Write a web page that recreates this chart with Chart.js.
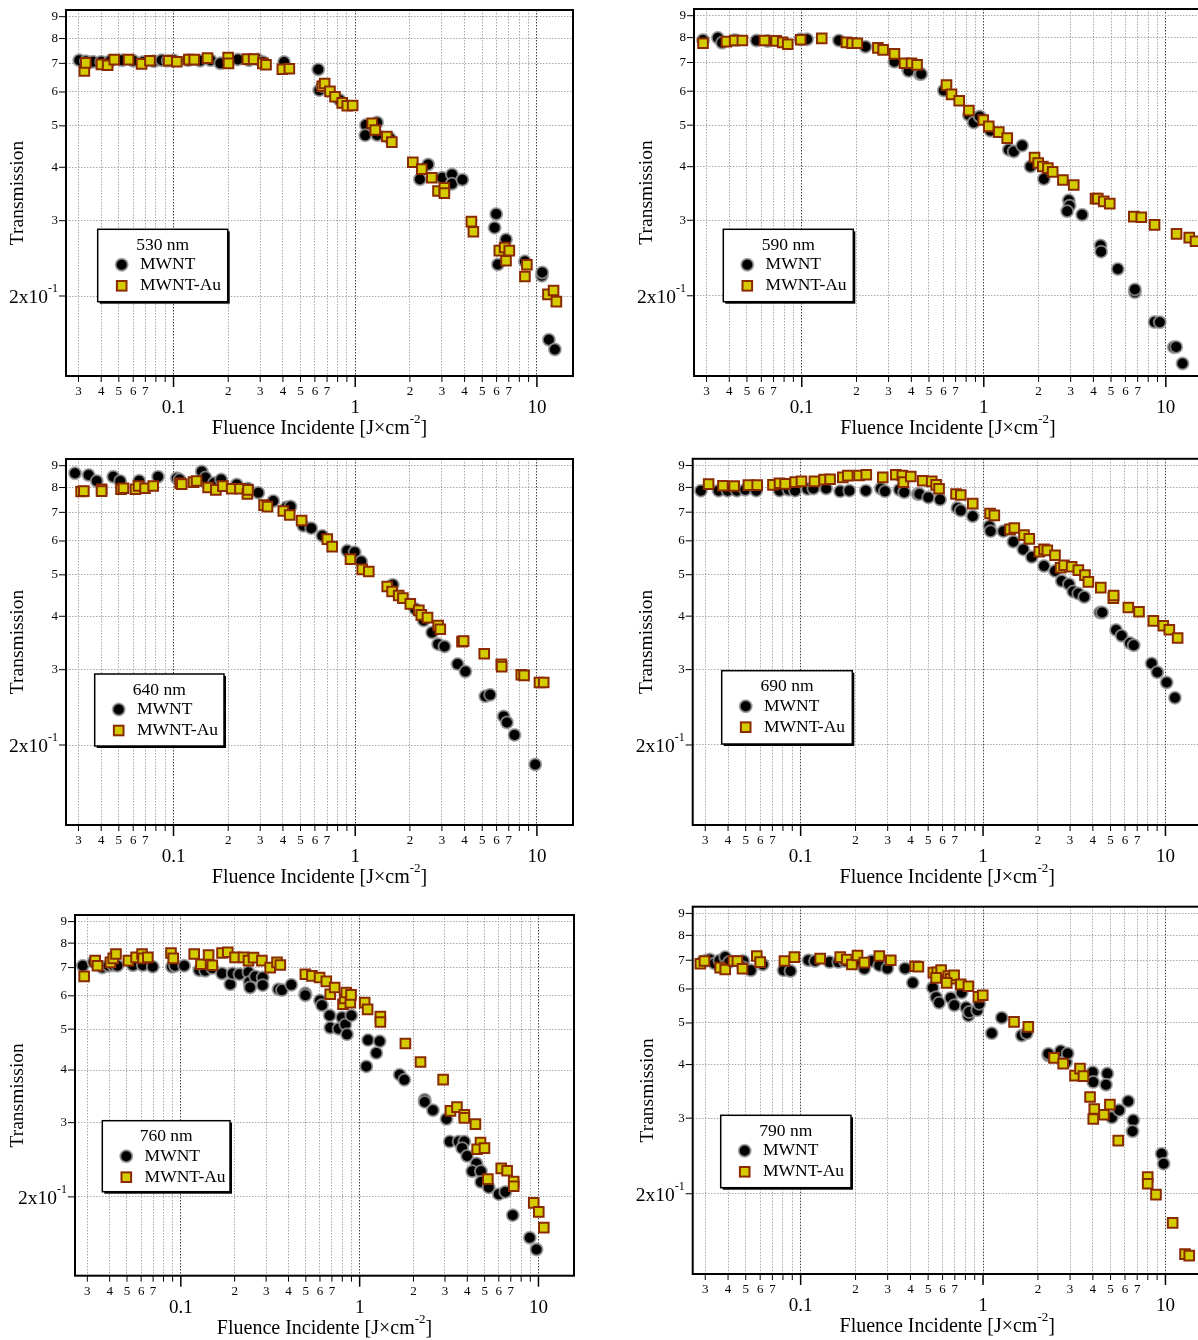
<!DOCTYPE html>
<html>
<head>
<meta charset="utf-8">
<script src="https://cdn.jsdelivr.net/npm/chart.js@4.4.0/dist/chart.umd.min.js"></script>
<style>
  html, body { margin: 0; padding: 0; background: #fff; overflow: hidden; }
  body { position: relative; width: 1198px; height: 1340px; }
  canvas { position: absolute; }
</style>
</head>
<body>
<canvas id="c530"></canvas>
<canvas id="c590"></canvas>
<canvas id="c640"></canvas>
<canvas id="c690"></canvas>
<canvas id="c760"></canvas>
<canvas id="c790"></canvas>
<script>
// ---------- axes ----------
const xMin = 0.0256, xMax = 15.8;
const yMin = 0.13, yMax = 0.933;
const xTicks = [0.03, 0.04, 0.05, 0.06, 0.07, 0.08, 0.09, 0.1, 0.2, 0.3, 0.4, 0.5, 0.6, 0.7, 0.8, 0.9, 1, 2, 3, 4, 5, 6, 7, 8, 9, 10];
const xTickLabels = ['3', '4', '5', '6', '7', '', '', '0.1', '2', '3', '4', '5', '6', '7', '', '', '1', '2', '3', '4', '5', '6', '7', '', '', '10'];
const xMajor = [0.1, 1, 10];
const yTicks = [0.2, 0.3, 0.4, 0.5, 0.6, 0.7, 0.8, 0.9];
const yTickLabels = ['2x10', '3', '4', '5', '6', '7', '8', '9'];
const yMajorSup = '-1';
const xTitle = 'Fluence Incidente [J×cm';
const xTitleSup = '-2';
const yTitle = 'Transmission';
const seriesNames = ['MWNT', 'MWNT-Au'];

// ---------- data: [fluence J/cm2, transmission] ----------
const mwnt530 = [[0.0303,0.712],[0.033,0.708],[0.036,0.706],[0.040,0.706],[0.045,0.71],[0.052,0.712],[0.06,0.71],[0.068,0.705],[0.078,0.708],[0.086,0.712],[0.093,0.71],[0.10,0.712],[0.12,0.712],[0.14,0.71],[0.16,0.712],[0.181,0.70],[0.226,0.715],[0.26,0.712],[0.29,0.715],[0.31,0.705],[0.406,0.705],
  [0.626,0.677],[0.634,0.606],[0.66,0.62],[0.82,0.575],[1.145,0.502],[1.135,0.475],[1.32,0.509],[1.32,0.476],[1.55,0.468],[2.27,0.375],[2.52,0.406],[3.01,0.378],[3.41,0.385],[3.41,0.366],[3.89,0.374],[5.97,0.311],[5.85,0.289],[6.76,0.271],[6.1,0.237],[8.59,0.241],[10.65,0.223],[10.7,0.227],[11.64,0.158],[12.56,0.150]];
const au530 = [[0.0323,0.672],[0.0329,0.702],[0.0401,0.696],[0.0434,0.693],[0.0472,0.714],[0.0566,0.714],[0.0667,0.698],[0.0742,0.71],[0.094,0.71],[0.1043,0.706],[0.1215,0.714],[0.130,0.714],[0.1538,0.72],[0.1998,0.722],[0.2007,0.70],[0.255,0.716],[0.276,0.716],[0.31,0.70],[0.323,0.695],[0.397,0.678],[0.434,0.68],
  [0.659,0.619],[0.679,0.628],[0.726,0.602],[0.774,0.585],[0.848,0.566],[0.904,0.557],[0.968,0.558],[1.24,0.507],[1.288,0.489],[1.493,0.472],[1.591,0.458],[2.075,0.411],[2.326,0.396],[2.64,0.378],[2.855,0.352],[3.095,0.358],[3.095,0.348],[4.36,0.2985],[4.47,0.2826],[6.21,0.2554],[6.64,0.2596],[7.05,0.2554],[6.76,0.2418],[8.81,0.2367],[8.59,0.2222],[11.5,0.2017],[12.35,0.206],[12.8,0.194]];

const mwnt590 = [[0.0287,0.790],[0.0346,0.799],[0.0365,0.778],[0.043,0.79],[0.0564,0.788],[0.065,0.786],[0.0987,0.793],[0.107,0.793],[0.16,0.788],[0.224,0.762],[0.323,0.703],[0.382,0.679],[0.387,0.669],[0.445,0.658],[0.453,0.658],
  [0.603,0.602],[0.828,0.528],[0.881,0.507],[0.95,0.524],[1.088,0.485],[1.371,0.438],[1.461,0.434],[1.625,0.448],[1.806,0.4005],[2.138,0.3743],[2.93,0.3339],[2.96,0.3245],[2.87,0.3148],[3.47,0.309],[4.38,0.2619],[4.41,0.2535],[5.45,0.231],[6.76,0.2039],[6.76,0.207],[8.67,0.1737],[9.27,0.1735],[11.06,0.1518],[11.4,0.152],[12.35,0.139]];
const au590 = [[0.0287,0.776],[0.0386,0.783],[0.0428,0.788],[0.0472,0.788],[0.0624,0.788],[0.0723,0.786],[0.0786,0.780],[0.0838,0.772],[0.0987,0.791],[0.1288,0.797],[0.176,0.780],[0.189,0.777],[0.202,0.776],[0.262,0.757],[0.28,0.749],[0.323,0.733],[0.367,0.697],[0.401,0.697],[0.43,0.691],
  [0.624,0.620],[0.665,0.59],[0.733,0.570],[0.828,0.541],[0.993,0.514],[1.065,0.4966],[1.209,0.4817],[1.345,0.4665],[1.9,0.4204],[1.99,0.408],[2.11,0.4005],[2.25,0.397],[2.39,0.389],[2.72,0.3725],[3.12,0.3626],[4.11,0.3369],[4.23,0.337],[4.56,0.332],[4.92,0.328],[6.67,0.306],[7.33,0.305],[8.67,0.2926],[11.45,0.2788],[13.45,0.2734],[14.56,0.268]];

const mwnt640 = [[0.0287,0.864],[0.0341,0.856],[0.0378,0.829],[0.0466,0.848],[0.0509,0.829],[0.0647,0.83],[0.0822,0.848],[0.1043,0.841],[0.108,0.835],[0.143,0.872],[0.150,0.844],[0.167,0.82],[0.183,0.835],[0.223,0.813],[0.257,0.796],[0.293,0.778],[0.354,0.744],[0.419,0.72],[0.441,0.7225],
  [0.518,0.651],[0.573,0.643],[0.659,0.617],[0.904,0.569],[0.993,0.565],[1.079,0.537],[1.61,0.474],[2.14,0.416],[2.38,0.391],[2.65,0.3665],[2.86,0.3443],[3.1,0.340],[3.66,0.3092],[4.04,0.297],[5.2,0.26],[5.53,0.262],[6.56,0.2333],[6.84,0.2258],[7.53,0.2112],[9.79,0.18]];
const au640 = [[0.031,0.783],[0.0321,0.785],[0.0402,0.793],[0.0402,0.785],[0.0514,0.793],[0.053,0.797],[0.0617,0.793],[0.0642,0.807],[0.0697,0.797],[0.0773,0.807],[0.1087,0.819],[0.111,0.815],[0.1288,0.824],[0.134,0.829],[0.155,0.80],[0.171,0.790],[0.187,0.806],[0.209,0.795],[0.232,0.795],[0.255,0.773],[0.257,0.79],[0.315,0.728],[0.329,0.722],[0.402,0.705],[0.436,0.690],
  [0.507,0.67],[0.702,0.606],[0.747,0.582],[0.942,0.544],[1.093,0.515],[1.188,0.509],[1.5,0.4695],[1.596,0.457],[1.735,0.4475],[1.83,0.441],[2.01,0.4277],[2.24,0.4128],[2.31,0.403],[2.5,0.397],[2.86,0.3805],[2.94,0.373],[3.87,0.349],[3.95,0.35],[5.13,0.327],[6.37,0.309],[6.4,0.305],[8.2,0.292],[8.5,0.291],[10.33,0.280],[10.9,0.28]];

const mwnt690 = [[0.0284,0.786],[0.0355,0.786],[0.0398,0.786],[0.0447,0.786],[0.0497,0.79],[0.0571,0.786],[0.0766,0.786],[0.0859,0.79],[0.0933,0.786],[0.109,0.793],[0.1175,0.795],[0.138,0.795],[0.1646,0.783],[0.185,0.786],[0.2277,0.786],[0.275,0.795],[0.29,0.783],[0.348,0.79],[0.37,0.779],[0.4388,0.772],
  [0.448,0.772],[0.501,0.758],[0.5813,0.749],[0.723,0.716],[0.755,0.706],[0.878,0.685],[1.083,0.649],[1.1,0.632],[1.292,0.632],[1.466,0.597],[1.663,0.573],[1.849,0.55],[2.159,0.524],[2.48,0.510],[2.7,0.4835],[2.96,0.475],[3.12,0.4566],[3.33,0.4516],[3.59,0.4436],[4.38,0.408],[4.5,0.408],[5.36,0.3713],[5.75,0.36],[6.39,0.346],[6.7,0.342],[8.4,0.310],[9.02,0.2957],[10.15,0.28],[11.27,0.2578]];
const au690 = [[0.0313,0.814],[0.0375,0.807],[0.0432,0.806],[0.0517,0.81],[0.0578,0.81],[0.0705,0.811],[0.0766,0.818],[0.0822,0.815],[0.0933,0.823],[0.101,0.826],[0.119,0.826],[0.1345,0.834],[0.145,0.836],[0.1703,0.844],[0.1814,0.852],[0.209,0.853],[0.229,0.856],[0.2819,0.844],[0.3323,0.856],[0.361,0.852],[0.366,0.823],[0.4016,0.848],
  [0.467,0.829],[0.523,0.826],[0.553,0.811],[0.574,0.794],[0.711,0.772],[0.755,0.768],[0.878,0.733],[1.092,0.695],[1.153,0.688],[1.406,0.638],[1.484,0.643],[1.677,0.6187],[1.793,0.6065],[2.035,0.5657],[2.159,0.573],[2.25,0.57],[2.48,0.555],[2.66,0.519],[2.78,0.526],[3.06,0.522],[3.33,0.5126],[3.62,0.4989],[3.78,0.481],[4.42,0.4664],[5.18,0.4405],[5.2,0.447],[6.26,0.419],[7.16,0.4095],[8.58,0.390],[9.73,0.380],[10.5,0.3717],[11.66,0.3557]];

const mwnt760 = [[0.0283,0.707],[0.0325,0.722],[0.0364,0.70],[0.0394,0.707],[0.042,0.709],[0.0442,0.707],[0.054,0.709],[0.0614,0.709],[0.0697,0.703],[0.0892,0.703],[0.0929,0.707],[0.1045,0.707],[0.1268,0.690],[0.137,0.688],[0.150,0.698],[0.17,0.678],[0.189,0.639],[0.195,0.678],[0.213,0.675],[0.239,0.682],[0.242,0.647],[0.244,0.628],[0.261,0.667],[0.287,0.663],[0.287,0.636],[0.352,0.622],[0.368,0.619],[0.415,0.637],
  [0.497,0.608],[0.497,0.602],[0.6,0.585],[0.616,0.57],[0.68,0.539],[0.685,0.504],[0.763,0.501],[0.797,0.533],[0.832,0.513],[0.85,0.486],[0.899,0.539],[1.09,0.408],[1.114,0.471],[1.24,0.439],[1.294,0.468],[1.674,0.39],[1.778,0.379],[2.31,0.340],[2.31,0.336],[2.57,0.321],[3.06,0.306],[3.19,0.2705],[3.58,0.2705],[3.85,0.2705],[3.74,0.261],[3.99,0.25],[4.5,0.240],[4.26,0.230],[4.77,0.230],[4.77,0.217],[5.27,0.2106],[6.0,0.203],[6.53,0.2055],[7.18,0.181],[8.94,0.16],[9.75,0.15]];
const au760 = [[0.0288,0.667],[0.0332,0.727],[0.0342,0.707],[0.0404,0.72],[0.0419,0.736],[0.0434,0.754],[0.0509,0.727],[0.0562,0.740],[0.0607,0.754],[0.0615,0.736],[0.0654,0.74],[0.0881,0.758],[0.0907,0.736],[0.1188,0.754],[0.1296,0.713],[0.143,0.750],[0.150,0.709],[0.17,0.758],[0.183,0.761],[0.201,0.74],[0.224,0.74],[0.239,0.727],[0.255,0.739],[0.284,0.727],[0.316,0.70],[0.345,0.72],[0.36,0.71],
  [0.497,0.675],[0.541,0.669],[0.597,0.663],[0.651,0.649],[0.685,0.605],[0.725,0.628],[0.807,0.573],[0.824,0.591],[0.842,0.611],[0.887,0.578],[0.895,0.603],[1.067,0.578],[1.108,0.557],[1.306,0.536],[1.306,0.52],[1.802,0.4624],[2.19,0.418],[2.93,0.3794],[3.22,0.320],[3.5,0.3266],[3.85,0.3132],[3.85,0.308],[4.44,0.2976],[4.74,0.269],[4.54,0.2594],[4.99,0.261],[5.21,0.2204],[6.19,0.2337],[6.68,0.2307],[7.27,0.2173],[7.27,0.212],[9.41,0.1935],[10.04,0.1842],[10.71,0.169]];

const mwnt790 = [[0.0288,0.693],[0.0304,0.699],[0.0318,0.703],[0.0337,0.688],[0.0359,0.699],[0.0386,0.712],[0.0405,0.693],[0.0485,0.697],[0.0485,0.673],[0.0533,0.663],[0.062,0.684],[0.0806,0.663],[0.088,0.661],[0.1103,0.70],[0.12,0.697],[0.144,0.693],[0.161,0.693],[0.175,0.697],[0.2007,0.693],[0.2234,0.669],[0.2453,0.697],[0.27,0.681],[0.2989,0.67],[0.3737,0.67],[0.4118,0.62],
  [0.530,0.604],[0.553,0.574],[0.574,0.557],[0.665,0.572],[0.696,0.55],[0.764,0.588],[0.807,0.543],[0.831,0.52],[0.84,0.53],[0.93,0.535],[0.954,0.554],[1.116,0.473],[1.266,0.514],[1.63,0.4675],[1.735,0.473],[2.28,0.4198],[2.28,0.424],[2.666,0.43],[2.85,0.405],[2.91,0.4244],[3.99,0.3838],[4.02,0.364],[4.8,0.381],[4.72,0.359],[5.09,0.301],[5.58,0.313],[6.25,0.3284],[6.66,0.2965],[6.6,0.2797],[9.53,0.2478],[9.77,0.235]];
const au790 = [[0.0282,0.687],[0.0297,0.697],[0.0362,0.673],[0.0386,0.666],[0.0428,0.697],[0.045,0.697],[0.048,0.669],[0.0575,0.716],[0.06,0.693],[0.0815,0.697],[0.0924,0.712],[0.128,0.706],[0.1648,0.712],[0.179,0.703],[0.191,0.684],[0.205,0.718],[0.2234,0.691],[0.27,0.716],[0.312,0.70],[0.4238,0.678],
  [0.442,0.676],[0.534,0.655],[0.561,0.656],[0.589,0.664],[0.553,0.637],[0.645,0.643],[0.665,0.634],[0.694,0.646],[0.632,0.62],[0.755,0.615],[0.831,0.609],[0.943,0.575],[0.996,0.58],[1.479,0.503],[1.77,0.4895],[2.45,0.4145],[2.75,0.402],[3.19,0.377],[3.4,0.3914],[3.55,0.376],[3.86,0.336],[4.07,0.3152],[4.02,0.2986],[4.6,0.3056],[4.96,0.3226],[5.51,0.266],[7.99,0.2188],[7.99,0.211],[8.87,0.199],[10.95,0.171],[12.8,0.1446],[13.5,0.1435]];

// ---------- layout of the six panels (canvas px) ----------
const panels = [
  { id: 'c530', nm: '530 nm', mwnt: mwnt530, au: au530, left: 0,   top: 0,   w: 600, h: 450, pad: { left: 66, top: 10, right: 27, bottom: 74 },   legend: [97.7, 229.3, 130, 72.4],  yTitleX: 18 },
  { id: 'c590', nm: '590 nm', mwnt: mwnt590, au: au590, left: 620, top: 0,   w: 600, h: 450, pad: { left: 74, top: 9, right: 18, bottom: 74 },    legend: [103.3, 229.3, 130, 72.4], yTitleX: 26.7 },
  { id: 'c640', nm: '640 nm', mwnt: mwnt640, au: au640, left: 0,   top: 450, w: 600, h: 450, pad: { left: 66, top: 9, right: 27, bottom: 75 },    legend: [94.7, 224, 129.3, 72],    yTitleX: 18 },
  { id: 'c690', nm: '690 nm', mwnt: mwnt690, au: au690, left: 620, top: 450, w: 600, h: 450, pad: { left: 72.7, top: 6.7, right: 18.3, bottom: 75 }, legend: [101.7, 220.7, 130.6, 73.3], yTitleX: 26.7 },
  { id: 'c760', nm: '760 nm', mwnt: mwnt760, au: au760, left: 0,   top: 900, w: 600, h: 440, pad: { left: 75, top: 15, right: 26, bottom: 64.3 }, legend: [102.3, 220.7, 127.7, 71], yTitleX: 18 },
  { id: 'c790', nm: '790 nm', mwnt: mwnt790, au: au790, left: 620, top: 890, w: 600, h: 450, pad: { left: 72.7, top: 16.7, right: 18.3, bottom: 66 }, legend: [100.7, 225.3, 130.3, 72.4], yTitleX: 27.5 }
];

const SERIF = '"Liberation Serif", "Times New Roman", serif';
const circleStyle = { fill: '#000', stroke: 'rgba(150,150,150,0.8)', r: 6, bw: 2 };
const squareStyle = { fill: '#d4cc00', stroke: '#8a2a00', r: 6.8, bw: 2 };

function drawCircle(ctx, x, y) {
  ctx.beginPath();
  ctx.arc(x, y, circleStyle.r, 0, Math.PI * 2);
  ctx.fillStyle = circleStyle.fill; ctx.fill();
  ctx.lineWidth = circleStyle.bw; ctx.strokeStyle = circleStyle.stroke; ctx.stroke();
}
function drawSquare(ctx, x, y) {
  const s = squareStyle.r * Math.SQRT1_2;
  ctx.fillStyle = squareStyle.fill; ctx.fillRect(x - s, y - s, 2 * s, 2 * s);
  ctx.lineWidth = squareStyle.bw; ctx.strokeStyle = squareStyle.stroke; ctx.strokeRect(x - s, y - s, 2 * s, 2 * s);
}

// ticks, labels, frame, titles and the boxed legend
const decor = {
  id: 'decor',
  afterDraw(chart, args, opts) {
    const { ctx, chartArea: a } = chart;
    const sx = chart.scales.x, sy = chart.scales.y;
    ctx.save();
    ctx.fillStyle = '#000'; ctx.strokeStyle = '#000';

    // x ticks + labels
    xTicks.forEach((v, i) => {
      const px = sx.getPixelForValue(v);
      const major = xMajor.includes(v);
      ctx.lineWidth = major ? 1.5 : 1;
      ctx.beginPath(); ctx.moveTo(px, a.bottom); ctx.lineTo(px, a.bottom + (major ? 11 : 6)); ctx.stroke();
      const lab = xTickLabels[i];
      if (!lab) return;
      ctx.textAlign = 'center'; ctx.textBaseline = 'middle';
      if (major) { ctx.font = '19px ' + SERIF; ctx.fillText(lab, px, a.bottom + 32); }
      else { ctx.font = '13px ' + SERIF; ctx.fillText(lab, px, a.bottom + 16); }
    });

    // y ticks + labels
    yTicks.forEach((v, i) => {
      const py = sy.getPixelForValue(v);
      ctx.lineWidth = 1;
      ctx.beginPath(); ctx.moveTo(a.left - 7, py); ctx.lineTo(a.left, py); ctx.stroke();
      const lab = yTickLabels[i];
      ctx.textBaseline = 'middle';
      if (i === 0) {
        ctx.font = '12px ' + SERIF;
        const sw = ctx.measureText(yMajorSup).width;
        ctx.textAlign = 'right';
        ctx.fillText(yMajorSup, a.left - 8, py - 7);
        ctx.font = '19.5px ' + SERIF;
        ctx.fillText(lab, a.left - 8 - sw, py + 2);
      } else {
        ctx.font = '13px ' + SERIF; ctx.textAlign = 'right';
        ctx.fillText(lab, a.left - 8, py);
      }
    });

    // frame
    ctx.lineWidth = 2;
    ctx.strokeRect(a.left, a.top, a.right - a.left, a.bottom - a.top);

    // x title with superscript
    ctx.font = '20px ' + SERIF;
    const w1 = ctx.measureText(xTitle).width;
    const w3 = ctx.measureText(']').width;
    ctx.font = '13px ' + SERIF;
    const w2 = ctx.measureText(xTitleSup).width;
    const tx = (a.left + a.right) / 2 - (w1 + w2 + w3) / 2;
    const ty = a.bottom + 53;
    ctx.textAlign = 'left'; ctx.textBaseline = 'middle';
    ctx.font = '20px ' + SERIF; ctx.fillText(xTitle, tx, ty);
    ctx.font = '13px ' + SERIF; ctx.fillText(xTitleSup, tx + w1, ty - 9);
    ctx.font = '20px ' + SERIF; ctx.fillText(']', tx + w1 + w2, ty);

    // y title
    ctx.save();
    ctx.translate(opts.yTitleX, (a.top + a.bottom) / 2);
    ctx.rotate(-Math.PI / 2);
    ctx.textAlign = 'center'; ctx.textBaseline = 'middle';
    ctx.font = '19.5px ' + SERIF;
    ctx.fillText(yTitle, 0, 0);
    ctx.restore();

    // legend box
    const [bx, by, bw, bh] = opts.legend;
    ctx.fillStyle = '#000'; ctx.fillRect(bx + 2, by + 2, bw, bh);
    ctx.fillStyle = '#fff'; ctx.fillRect(bx, by, bw, bh);
    ctx.lineWidth = 1.5; ctx.strokeStyle = '#000'; ctx.strokeRect(bx, by, bw, bh);
    ctx.fillStyle = '#000'; ctx.font = '17.5px ' + SERIF;
    ctx.textAlign = 'center'; ctx.textBaseline = 'middle';
    ctx.fillText(opts.nm, bx + bw / 2, by + 16);
    drawCircle(ctx, bx + 24, by + 35.5);
    drawSquare(ctx, bx + 24, by + 56.5);
    ctx.fillStyle = '#000'; ctx.textAlign = 'left';
    ctx.fillText(seriesNames[0], bx + 42.3, by + 35.5);
    ctx.fillText(seriesNames[1], bx + 42.3, by + 56.5);
    ctx.restore();
  }
};

function makeChart(p) {
  const cv = document.getElementById(p.id);
  cv.width = p.w; cv.height = p.h;
  cv.style.left = p.left + 'px'; cv.style.top = p.top + 'px';
  cv.style.width = p.w + 'px'; cv.style.height = p.h + 'px';
  new Chart(cv, {
    type: 'scatter',
    data: {
      datasets: [
        {
          label: seriesNames[0],
          data: p.mwnt.map(([x, y]) => ({ x, y })),
          order: 1,
          pointStyle: 'circle',
          pointRadius: circleStyle.r,
          backgroundColor: circleStyle.fill,
          borderColor: circleStyle.stroke,
          borderWidth: circleStyle.bw
        },
        {
          label: seriesNames[1],
          data: p.au.map(([x, y]) => ({ x, y })),
          order: 0,
          pointStyle: 'rect',
          pointRadius: squareStyle.r,
          backgroundColor: squareStyle.fill,
          borderColor: squareStyle.stroke,
          borderWidth: squareStyle.bw
        }
      ]
    },
    options: {
      responsive: false,
      animation: false,
      events: [],
      layout: { padding: p.pad },
      plugins: {
        legend: { display: false },
        tooltip: { enabled: false },
        decor: { legend: p.legend, nm: p.nm, yTitleX: p.yTitleX }
      },
      scales: {
        x: {
          type: 'logarithmic', min: xMin, max: xMax,
          afterBuildTicks: (s) => { s.ticks = xTicks.map(v => ({ value: v })); },
          afterFit: (s) => { s.height = 0; },
          ticks: { display: false },
          grid: {
            drawTicks: false, lineWidth: 1,
            color: (c) => (c.tick && xMajor.includes(c.tick.value)) ? '#444' : '#a8a8a8'
          },
          border: { display: false, dash: [1.5, 1.5] }
        },
        y: {
          type: 'logarithmic', min: yMin, max: yMax,
          afterBuildTicks: (s) => { s.ticks = yTicks.map(v => ({ value: v })); },
          afterFit: (s) => { s.width = 0; },
          ticks: { display: false },
          grid: { drawTicks: false, lineWidth: 1, color: '#a8a8a8' },
          border: { display: false, dash: [1.5, 1.5] }
        }
      }
    },
    plugins: [decor]
  });
}

panels.forEach(makeChart);
</script>
</body>
</html>
